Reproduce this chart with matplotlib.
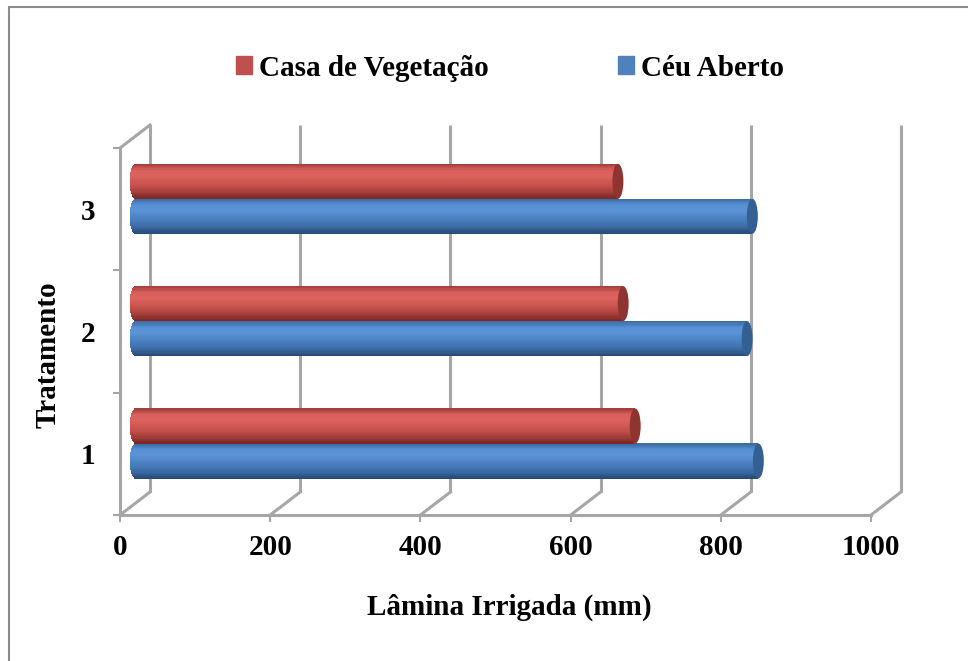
import numpy as np
import matplotlib.pyplot as plt
from matplotlib.patches import Ellipse, Rectangle
from matplotlib.colors import LinearSegmentedColormap

# Lâmina irrigada (mm) por tratamento
tratamentos = ['1', '2', '3']
casa_vegetacao = [666, 650, 643]
ceu_aberto = [830, 815, 822]
x_ticks = [0, 200, 400, 600, 800, 1000]

plt.rcParams['font.family'] = ['Liberation Serif', 'DejaVu Serif']
plt.rcParams['font.weight'] = 'bold'

W, H = 968, 661
fig = plt.figure(figsize=(W / 100, H / 100), dpi=100)
ax = fig.add_axes([120 / W, 146 / H, 751 / W, 367 / H])
ax.set_xlim(0, 1000)
ax.set_ylim(0.5, 3.5)

# depth of the 3D box, in data units
dx, dy = 40, 0.188
grid_c = '#a6a6a6'

# back wall gridlines and floor diagonals
for v in x_ticks:
    ax.plot([v + dx, v + dx], [0.5 + dy, 3.5 + dy], color=grid_c, lw=2.2,
            clip_on=False, zorder=1, solid_capstyle='butt')
    ax.plot([v, v + dx], [0.5, 0.5 + dy], color=grid_c, lw=2.2,
            clip_on=False, zorder=1)
ax.plot([0, dx], [3.5, 3.5 + dy], color=grid_c, lw=2.2, clip_on=False, zorder=1)

# front axes
for side in ['top', 'right']:
    ax.spines[side].set_visible(False)
for side in ['left', 'bottom']:
    ax.spines[side].set_color(grid_c)
    ax.spines[side].set_linewidth(2.2)
    ax.spines[side].set_zorder(2)
ax.patch.set_visible(False)

ax.set_xticks(x_ticks)
ax.set_xticklabels([str(v) for v in x_ticks], fontsize=21, fontweight='bold')
ax.tick_params(axis='x', length=5, width=1.5, color=grid_c, pad=9)

ax.set_yticks([0.5, 1.5, 2.5, 3.5])
ax.set_yticklabels([])
ax.set_yticks([1, 2, 3], minor=True)
ax.set_yticklabels(tratamentos, minor=True, fontsize=21, fontweight='bold')
ax.tick_params(axis='y', which='major', length=5, width=1.5, color=grid_c)
ax.tick_params(axis='y', which='minor', length=0, pad=18)


def cylinder(y, value, colors, cap_color, h=0.286, x0=20, ew=7.3, n=30):
    cmap = LinearSegmentedColormap.from_list('cyl', colors)
    edges = np.linspace(y + h / 2, y - h / 2, n + 1)
    for i in range(n):
        yc = (edges[i] + edges[i + 1]) / 2
        t = (yc - y) / (h / 2)
        left = x0 - ew * np.sqrt(max(0.0, 1 - t * t))
        ax.barh(yc, x0 + value - left, left=left, height=h / n * 1.15,
                color=cmap(i / (n - 1)), lw=0, zorder=3)
    ax.add_patch(Ellipse((x0 + value, y), 2 * ew, h, facecolor=cap_color,
                         edgecolor='none', zorder=4))


red_grad = ['#a3403c', '#d85f5b', '#db625e', '#d05853', '#c04d49', '#a23c38', '#7a2926']
blue_grad = ['#3d6da6', '#5790d3', '#5a93d6', '#4f86c6', '#4479b8', '#3a679f', '#294b78']

bar_h = 0.286
bar_dy = 0.085
for i, cat in enumerate([1, 2, 3]):
    cylinder(cat + bar_dy - bar_h / 2, ceu_aberto[i], blue_grad, '#345f92', h=bar_h)
    cylinder(cat + bar_dy + bar_h / 2, casa_vegetacao[i], red_grad, '#8e3431', h=bar_h)

# legend
handles = [Rectangle((0, 0), 1, 1, color='#c0504d'),
           Rectangle((0, 0), 1, 1, color='#4f81bd')]
fig.legend(handles, ['Casa de Vegetação', 'Céu Aberto'], loc='center',
           bbox_to_anchor=(510 / W, 1 - 68 / H), ncol=2, frameon=False,
           prop={'size': 21, 'weight': 'bold'}, handlelength=0.55,
           handleheight=0.55, handletextpad=0.25, columnspacing=4.4)

fig.text(509 / W, 1 - 607 / H, 'Lâmina Irrigada (mm)', fontsize=21,
         fontweight='bold', ha='center', va='center')
fig.text(48 / W, 1 - 355 / H, 'Tratamento', fontsize=21, fontweight='bold',
         rotation=90, ha='center', va='center')

# chart border
fig.add_artist(Rectangle((9 / W, -0.02), 1.05, 1 - 7 / H + 0.02,
                         transform=fig.transFigure, fill=False,
                         edgecolor='#8c8c8c', lw=1.5))

fig.savefig('out.png', dpi=100)
